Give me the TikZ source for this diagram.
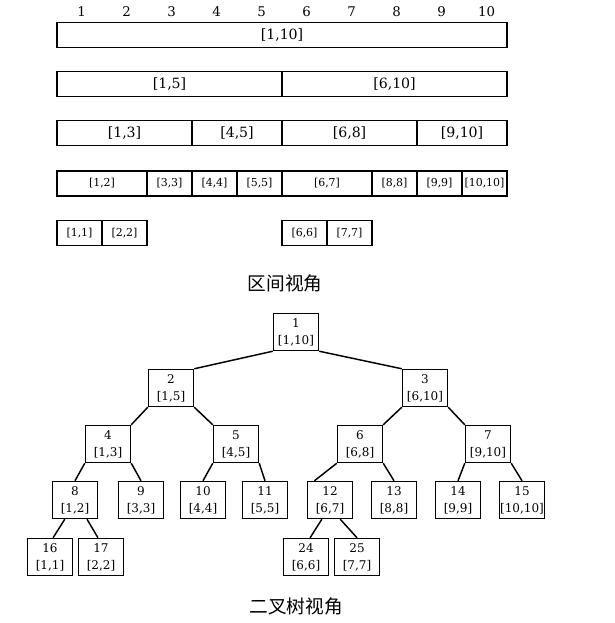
\documentclass[tikz,border=0pt]{standalone}
\usepackage{fontspec}
\setmainfont{DejaVu Serif}
\newfontfamily\cjk{Noto Sans CJK SC}
\usetikzlibrary{positioning}

\tikzset{
  bar/.style={draw, line width=1.1pt, minimum height=18.75pt, inner sep=0pt},
  bigtxt/.style={font=\fontsize{10.6}{12}\selectfont},
  smalltxt/.style={font=\fontsize{8.2}{10}\selectfont},
  tnode/.style={draw, line width=1.1pt, minimum width=33.75pt, minimum height=27.75pt,
    inner sep=0pt, align=center, font=\fontsize{9}{12.75}\selectfont},
  link/.style={line width=1.1pt}
}

\begin{document}
\begin{tikzpicture}[x=0.75pt, y=-0.75pt]
    \useasboundingbox (0,0) rectangle (614,623);

    % --- 顶部编号 ---
    \foreach \i in {1,...,10}
      \node[font=\fontsize{10}{12}\selectfont] (h\i) at ({59+45*(\i-0.5)}, 12) {\i};

    % --- 区间条 (行/起点/终点/标签) ---
    \foreach \r/\a/\b/\t in {1/1/10/{[1,10]}, 2/1/5/{[1,5]}, 2/6/10/{[6,10]},
        3/1/3/{[1,3]}, 3/4/5/{[4,5]}, 3/6/8/{[6,8]}, 3/9/10/{[9,10]}}
      \node[bar, bigtxt, minimum width={(\b-\a+1)*33.75pt}] (s\r-\a)
        at ({57+45*(\a+\b-1)/2}, {35+49*(\r-1)}) {\t};
    \foreach \r/\a/\b/\t in {4/1/2/{[1,2]}, 4/3/3/{[3,3]}, 4/4/4/{[4,4]}, 4/5/5/{[5,5]},
        4/6/7/{[6,7]}, 4/8/8/{[8,8]}, 4/9/9/{[9,9]}, 4/10/10/{[10,10]},
        5/1/1/{[1,1]}, 5/2/2/{[2,2]}, 5/6/6/{[6,6]}, 5/7/7/{[7,7]}}
      \node[bar, smalltxt, minimum width={(\b-\a+1)*33.75pt}] (s\r-\a)
        at ({57+45*(\a+\b-1)/2}, {35+49.5*(\r-1)}) {\t};

    \node[font=\cjk\fontsize{14}{16}\selectfont] (title1) at (285,283) {区间视角};

    % --- 二叉树结点 (编号/x/y/区间) ---
    \foreach \n/\x/\y/\t in {1/296/332/{[1,10]}, 2/171/388/{[1,5]}, 3/425/388/{[6,10]},
        4/108/444/{[1,3]}, 5/236/444/{[4,5]}, 6/360/444/{[6,8]}, 7/488/444/{[9,10]},
        8/75/500/{[1,2]}, 9/141/500/{[3,3]}, 10/203/500/{[4,4]}, 11/265/500/{[5,5]},
        12/330/500/{[6,7]}, 13/394/500/{[8,8]}, 14/458/500/{[9,9]}, 15/522/500/{[10,10]},
        16/50/557/{[1,1]}, 17/101/557/{[2,2]}, 24/306/557/{[6,6]}, 25/357/557/{[7,7]}}
      \node[tnode] (n\n) at (\x,\y) {\n\\\t};

    % --- 树边 ---
    \draw[link] (n1.south west) -- (n2.north east);
    \draw[link] (n1.south east) -- (n3.north west);
    \draw[link] (n2.south west) -- (n4.north east);
    \draw[link] (n2.south east) -- (n5.north west);
    \draw[link] (n3.south west) -- (n6.north east);
    \draw[link] (n3.south east) -- (n7.north west);
    \draw[link] (n4.south west) -- (n8.north);
    \draw[link] (n4.south east) -- (n9.north);
    \draw[link] (n5.south west) -- (n10.north);
    \draw[link] (n5.south east) -- (n11.north);
    \draw[link] (n6.south west) -- (n12.129);
    \draw[link] (n6.south east) -- (n13.north);
    \draw[link] (n7.south west) -- (n14.north);
    \draw[link] (n7.south east) -- (n15.north);
    \draw[link] (n8.242) -- (n16.81);
    \draw[link] (n8.302) -- (n17.99);
    \draw[link] (n12.247) -- (n24.78);
    \draw[link] (n12.298) -- (n25.north);

    \node[font=\cjk\fontsize{14}{16}\selectfont] (title2) at (296,606) {二叉树视角};

\end{tikzpicture}
\end{document}
